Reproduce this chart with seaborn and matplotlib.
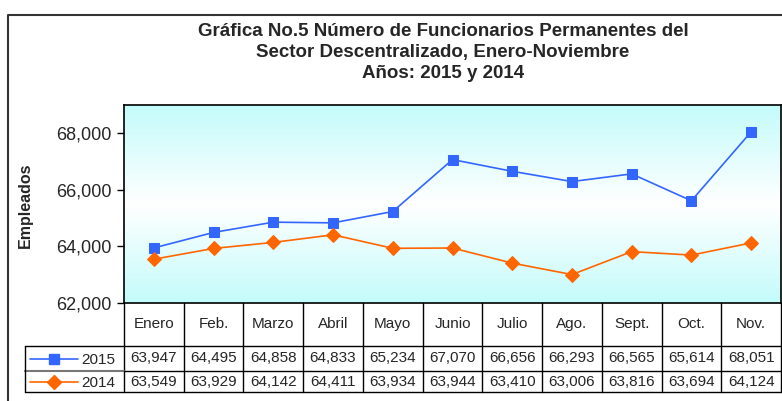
import matplotlib
matplotlib.use("Agg")
import matplotlib.pyplot as plt
import matplotlib.transforms as mtransforms
from matplotlib.lines import Line2D
from matplotlib.colors import LinearSegmentedColormap
import numpy as np
import pandas as pd
import seaborn as sns

months = ["Enero", "Feb.", "Marzo", "Abril", "Mayo", "Junio", "Julio", "Ago.", "Sept.", "Oct.", "Nov."]
vals_2015 = [63947, 64495, 64858, 64833, 65234, 67070, 66656, 66293, 66565, 65614, 68051]
vals_2014 = [63549, 63929, 64142, 64411, 63934, 63944, 63410, 63006, 63816, 63694, 64124]
yticks = [62000, 64000, 66000, 68000]
title_lines = ["Gráfica No.5 Número de Funcionarios Permanentes del",
               "Sector Descentralizado, Enero-Noviembre",
               "Años: 2015 y 2014"]

sns.set_style("white")
plt.rcParams['font.family'] = ['Liberation Sans', 'DejaVu Sans']

W, H = 782, 401
fig = plt.figure(figsize=(W / 100, H / 100), dpi=100)
fig.patch.set_facecolor("white")

def fx(x):
    return x / W

def fy(y):
    return 1 - y / H

ax = fig.add_axes([fx(124), fy(303), fx(781) - fx(124), fy(105) - fy(303)])

# gradient background
grad = np.abs(np.linspace(-1, 1, 256)).reshape(-1, 1)
cmap = LinearSegmentedColormap.from_list("g", ["#ffffff", "#c4fbfb"])
ax.imshow(grad, aspect="auto", cmap=cmap, extent=[0, 1, 0, 1], transform=ax.transAxes, zorder=0)

pos = list(range(len(months)))
df15 = pd.DataFrame({"pos": pos, "val": vals_2015})
df14 = pd.DataFrame({"pos": pos, "val": vals_2014})
sns.lineplot(data=df15, x="pos", y="val", ax=ax, color="#3366ff", marker="s", markersize=7,
             markeredgecolor="#3366ff", linewidth=1.2, zorder=3)
sns.lineplot(data=df14, x="pos", y="val", ax=ax, color="#ff6600", marker="D", markersize=7.5,
             markeredgecolor="#ff6600", linewidth=1.2, zorder=3)

ax.set_xlim(-0.5, len(months) - 0.5)
ax.set_ylim(62000, 69000)
ax.set_yticks(yticks)
ax.set_yticklabels([f"{v:,}" for v in yticks], fontsize=13)
ax.set_xticks([])
ax.set_xlabel("")
ax.set_ylabel("")
ax.tick_params(axis="y", direction="out", length=5, width=1, color="black", pad=4, left=True)
for s in ax.spines.values():
    s.set_color("black")
    s.set_linewidth(1.2)

fig.text(fx(25), fy(205), "Empleados", rotation=90, fontsize=11.5, fontweight="bold",
         ha="center", va="center")

for line, yy in zip(title_lines, [31, 52, 73]):
    fig.text(fx(443), fy(yy), line, ha="center", va="center", fontsize=13.5, fontweight="bold")

# outer frame
fig.add_artist(Line2D([fx(8), fx(8), fx(782)], [fy(401), fy(15), fy(15)], color="#333333", lw=1.5))

# table
tr = mtransforms.blended_transform_factory(ax.transData, fig.transFigure)
n = len(months)
y_top, y_hdr, y_mid, y_bot = 303, 346, 371, 392
for i in range(n + 1):
    x = i - 0.5
    fig.add_artist(Line2D([x, x], [fy(y_top), fy(y_bot)], transform=tr, color="black", lw=1))
fig.add_artist(Line2D([fx(25), fx(781)], [fy(y_hdr), fy(y_hdr)], color="black", lw=1))
fig.add_artist(Line2D([fx(25), fx(124)], [fy(y_mid), fy(y_mid)], color="#777777", lw=1.5))
fig.add_artist(Line2D([fx(124), fx(781)], [fy(y_mid), fy(y_mid)], color="black", lw=1))
fig.add_artist(Line2D([fx(25), fx(781)], [fy(y_bot), fy(y_bot)], color="black", lw=1))
fig.add_artist(Line2D([fx(25), fx(25)], [fy(y_hdr), fy(y_bot)], color="black", lw=1))

for i, m in enumerate(months):
    fig.text(i, fy(324), m, transform=tr, ha="center", va="center", fontsize=11)
    fig.text(i, fy(358.5), f"{vals_2015[i]:,}", transform=tr, ha="center", va="center", fontsize=11)
    fig.text(i, fy(382), f"{vals_2014[i]:,}", transform=tr, ha="center", va="center", fontsize=11)

# legend keys
fig.add_artist(Line2D([fx(30), fx(78)], [fy(358.5), fy(358.5)], color="#3366ff", lw=1.2))
fig.add_artist(Line2D([fx(54)], [fy(358.5)], color="#3366ff", marker="s", markersize=7, lw=0))
fig.add_artist(Line2D([fx(30), fx(78)], [fy(382), fy(382)], color="#ff6600", lw=1.2))
fig.add_artist(Line2D([fx(54)], [fy(382)], color="#ff6600", marker="D", markersize=7.5, lw=0))
fig.text(fx(81), fy(359.5), "2015", ha="left", va="center", fontsize=11)
fig.text(fx(81), fy(383), "2014", ha="left", va="center", fontsize=11)

fig.savefig("out.png", dpi=100)
